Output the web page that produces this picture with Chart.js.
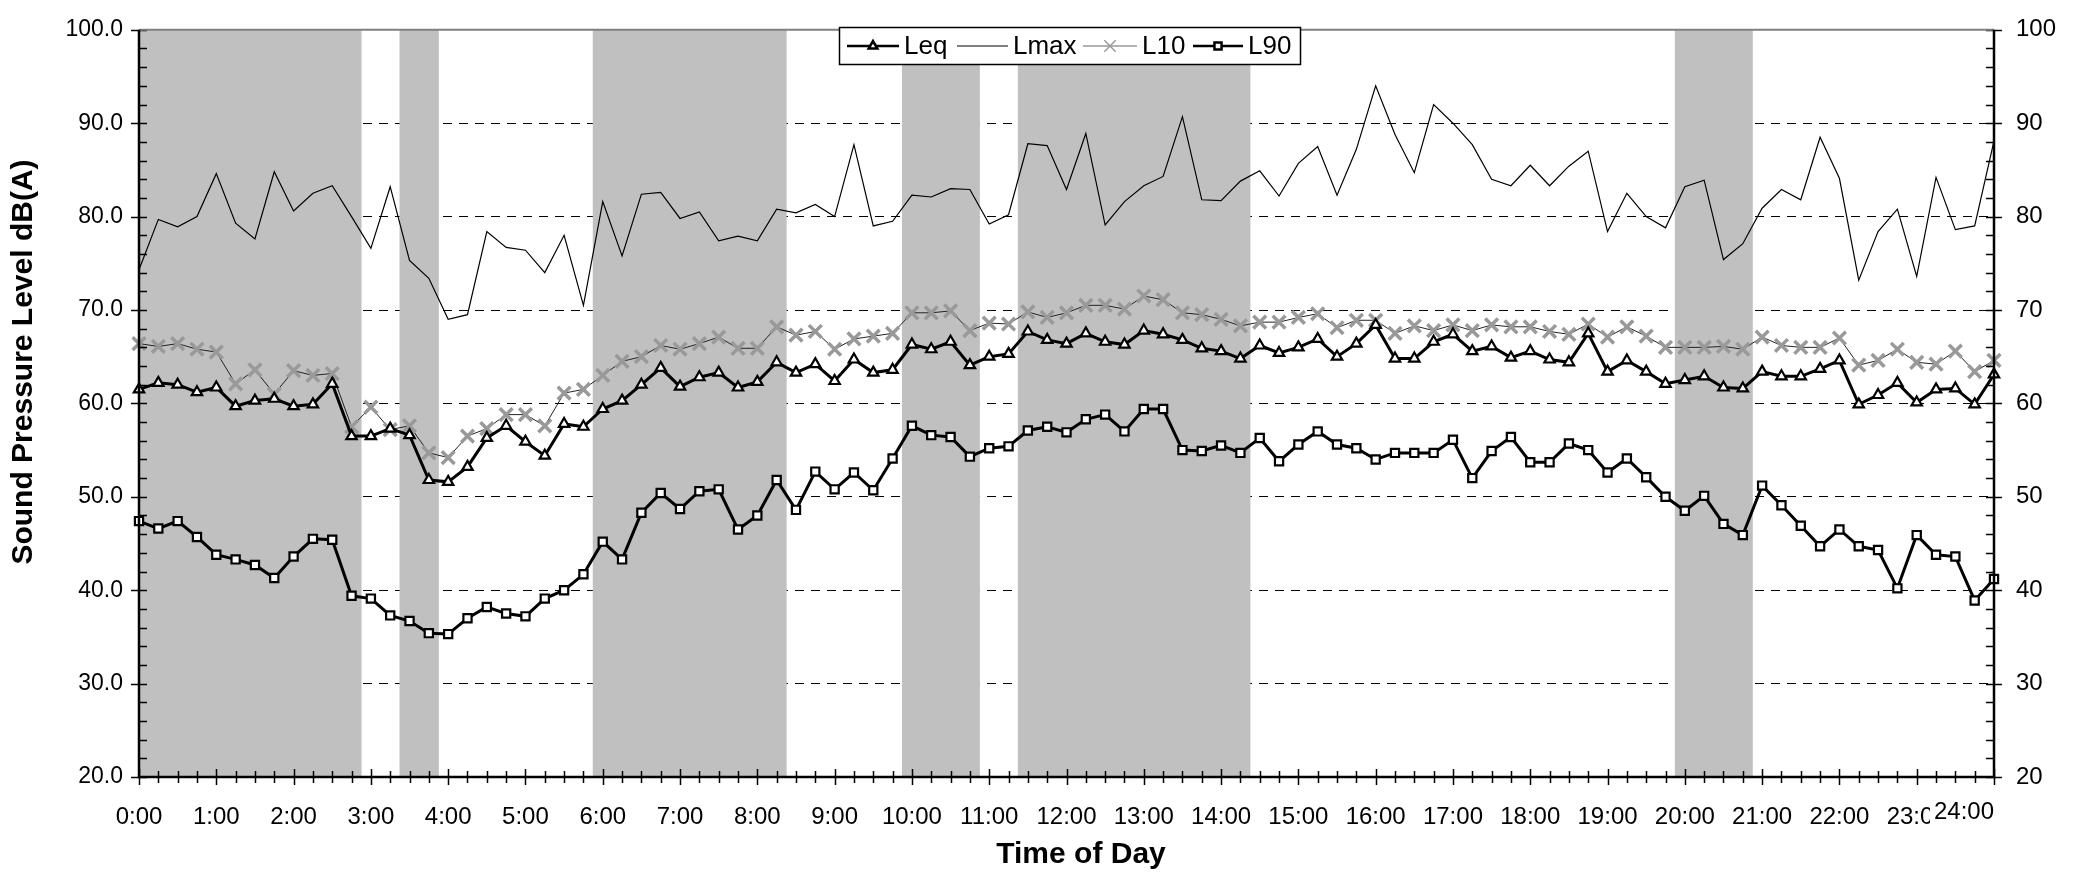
<!DOCTYPE html>
<html>
<head>
<meta charset="utf-8">
<title>Sound Pressure Level by Time of Day</title>
<script src="https://cdn.jsdelivr.net/npm/chart.js@4.4.1/dist/chart.umd.min.js"></script>
<style>
  html, body { margin: 0; padding: 0; background: #fff; }
  #wrap { width: 2078px; height: 872px; }
</style>
</head>
<body>
<div id="wrap"><canvas id="chart" width="2078" height="872"></canvas></div>
<script>
// 15-minute readings from 0:00 to 24:00 (97 points)
const timeLabels = [];
for (let h = 0; h <= 24; h++) {
  ['00', '15', '30', '45'].forEach(m => {
    if (h < 24 || m === '00') timeLabels.push(h + ':' + m);
  });
}

const leq = [
  61.5, 62.2, 62.0, 61.2, 61.7, 59.7, 60.3, 60.5, 59.7, 59.9, 62.1, 56.5, 56.5,
  57.3, 56.6, 51.8, 51.6, 53.2, 56.3, 57.6, 55.9, 54.4, 57.8, 57.5, 59.4,
  60.3, 62.0, 63.8, 61.8, 62.8, 63.3, 61.7, 62.3, 64.4, 63.3, 64.2, 62.4, 64.7,
  63.3, 63.6, 66.3, 65.8, 66.6, 64.1, 65.0, 65.3, 67.7, 66.8, 66.4, 67.5,
  66.6, 66.3, 67.8, 67.4, 66.8, 65.9, 65.6, 64.8, 66.2, 65.4, 66.0, 66.9, 65.0,
  66.4, 68.4, 64.8, 64.8, 66.6, 67.4, 65.6, 66.1, 64.9, 65.6, 64.7, 64.4,
  67.5, 63.4, 64.6, 63.4, 62.1, 62.5, 62.9, 61.7, 61.6, 63.4, 62.9, 62.9, 63.7,
  64.6, 59.9, 60.9, 62.2, 60.1, 61.5, 61.6, 59.9, 63.1
];

const lmax = [
  74.3, 79.7, 78.9, 80.0, 84.6, 79.3, 77.6, 84.8, 80.6, 82.5, 83.3, 80.0, 76.6,
  83.2, 75.3, 73.4, 69.0, 69.5, 78.4, 76.7, 76.4, 74.0, 78.0, 70.5, 81.6,
  75.8, 82.4, 82.6, 79.8, 80.5, 77.4, 77.9, 77.4, 80.8, 80.4, 81.3, 80.0, 87.7,
  79.0, 79.5, 82.3, 82.1, 83.0, 82.9, 79.2, 80.2, 87.8, 87.6, 82.9, 88.9,
  79.1, 81.6, 83.3, 84.3, 90.7, 81.8, 81.7, 83.8, 84.9, 82.2, 85.7, 87.5, 82.3,
  87.2, 94.0, 88.8, 84.7, 92.0, 90.0, 87.7, 84.0, 83.3, 85.5, 83.3, 85.4,
  87.0, 78.4, 82.5, 80.0, 78.8, 83.2, 83.9, 75.4, 77.1, 80.9, 82.9, 81.8, 88.5,
  84.1, 73.2, 78.4, 80.8, 73.6, 84.2, 78.6, 79.0, 88.1
];

const l10 = [
  66.4, 66.1, 66.4, 65.8, 65.5, 62.1, 63.6, 61.0, 63.5, 63.0, 63.2, 57.5, 59.6,
  57.2, 57.6, 54.7, 54.2, 56.5, 57.3, 58.8, 58.8, 57.6, 61.1, 61.5, 63.0,
  64.5, 65.0, 66.2, 65.8, 66.4, 67.1, 65.9, 65.9, 68.2, 67.3, 67.7, 65.8, 66.9,
  67.2, 67.5, 69.7, 69.7, 69.9, 67.8, 68.6, 68.5, 69.8, 69.2, 69.7, 70.5,
  70.5, 70.1, 71.5, 71.1, 69.7, 69.5, 69.0, 68.3, 68.7, 68.7, 69.2, 69.6, 68.1,
  68.9, 68.9, 67.5, 68.3, 67.8, 68.4, 67.8, 68.4, 68.2, 68.2, 67.7, 67.4,
  68.5, 67.1, 68.2, 67.2, 66.0, 66.0, 66.0, 66.1, 65.8, 67.1, 66.2, 66.0, 66.0,
  67.0, 64.1, 64.6, 65.8, 64.4, 64.2, 65.6, 63.4, 64.6
];

const l90 = [
  47.4, 46.6, 47.4, 45.7, 43.8, 43.3, 42.7, 41.3, 43.6, 45.5, 45.4, 39.4, 39.1,
  37.3, 36.7, 35.4, 35.3, 37.0, 38.2, 37.5, 37.2, 39.1, 40.0, 41.7, 45.2,
  43.3, 48.3, 50.4, 48.7, 50.6, 50.8, 46.5, 48.0, 51.8, 48.6, 52.7, 50.8, 52.6,
  50.7, 54.1, 57.6, 56.6, 56.4, 54.3, 55.2, 55.4, 57.1, 57.5, 56.9, 58.3,
  58.8, 57.0, 59.4, 59.4, 55.0, 54.9, 55.5, 54.7, 56.3, 53.8, 55.6, 57.0, 55.6,
  55.2, 54.0, 54.7, 54.7, 54.7, 56.1, 52.0, 54.9, 56.4, 53.7, 53.7, 55.7,
  55.0, 52.6, 54.1, 52.1, 50.0, 48.5, 50.1, 47.1, 45.9, 51.2, 49.1, 46.9, 44.7,
  46.5, 44.7, 44.3, 40.2, 45.9, 43.8, 43.6, 38.9, 41.2
];

// shaded periods (first and last reading inside each grey band)
const shadedPeriods = [
  ['0:00', '2:45'], ['3:30', '3:45'], ['6:00', '8:15'],
  ['10:00', '10:45'], ['11:30', '14:15'], ['20:00', '20:45']
];

const yMin = 20, yMax = 100;

const bandData = timeLabels.map((t, i) => {
  const inBand = shadedPeriods.some(([a, b]) => i >= timeLabels.indexOf(a) && i <= timeLabels.indexOf(b));
  return inBand ? yMax : null;
});

const regular = "'Liberation Sans', Arial, sans-serif";
const lastLabel = timeLabels[timeLabels.length - 1];

// axis lines, tick marks, titles
const frame = {
  id: 'frame',
  afterDatasetsDraw(chart) {
    const { ctx, chartArea: a, scales: { x, y } } = chart;
    ctx.save();
    ctx.setLineDash([]);
    ctx.strokeStyle = '#000';
    ctx.lineWidth = 1.5;
    ctx.beginPath();
    for (let v = yMin; v <= yMax; v += 2) {
      const py = Math.round(y.getPixelForValue(v)) + 0.5;
      const major = v % 10 === 0;
      ctx.moveTo(a.left - (major ? 8 : 0), py);
      ctx.lineTo(a.left + 8, py);
      ctx.moveTo(a.right - 8, py);
      ctx.lineTo(a.right + (major ? 8 : 0), py);
    }
    timeLabels.forEach((t, i) => {
      const px = Math.round(x.getPixelForValue(i)) + 0.5;
      const hour = t.endsWith(':00');
      ctx.moveTo(px, a.bottom - (hour ? 8 : 6));
      ctx.lineTo(px, a.bottom + (hour ? 8 : 6));
    });
    ctx.stroke();

    ctx.strokeStyle = '#808080';
    ctx.lineWidth = 2;
    ctx.beginPath();
    ctx.moveTo(a.left, a.top);
    ctx.lineTo(a.right, a.top);
    ctx.stroke();

    ctx.strokeStyle = '#000';
    ctx.lineWidth = 2.5;
    ctx.beginPath();
    ctx.moveTo(a.left, a.top);
    ctx.lineTo(a.left, a.bottom);
    ctx.lineTo(a.right, a.bottom);
    ctx.lineTo(a.right, a.top);
    ctx.stroke();

    // last time label is pushed inside the axis end, over the 23:00 label
    ctx.font = '24px ' + regular;
    ctx.textAlign = 'right';
    ctx.textBaseline = 'middle';
    const w = ctx.measureText(lastLabel).width;
    ctx.fillStyle = '#fff';
    ctx.fillRect(a.right - w - 4, a.bottom + 16, w + 4, 32);
    ctx.fillStyle = '#000';
    ctx.fillText(lastLabel, a.right, a.bottom + 35);

    ctx.textAlign = 'center';
    ctx.font = 'bold 30px ' + regular;
    ctx.fillText('Time of Day', 1081, 855);
    ctx.translate(24, 362);
    ctx.rotate(-Math.PI / 2);
    ctx.font = 'bold 30px ' + regular;
    ctx.fillText('Sound Pressure Level dB(A)', 0, 0);
    ctx.restore();
  },
  afterDraw(chart) {
    // boxed legend with line + marker samples
    const { ctx } = chart;
    const items = [
      { label: 'Leq', x1: 847, x2: 899, color: '#000', width: 2.5, style: 'triangle', r: 5, fill: '#fff', mw: 2 },
      { label: 'Lmax', x1: 957, x2: 1008, color: '#000', width: 1, style: false },
      { label: 'L10', x1: 1083, x2: 1137, color: '#999', width: 1.5, style: 'crossRot', r: 8, fill: '#999', mw: 3 },
      { label: 'L90', x1: 1193, x2: 1243, color: '#000', width: 2.5, style: 'rect', r: 5, fill: '#fff', mw: 2 }
    ];
    const cy = 46;
    ctx.save();
    ctx.fillStyle = '#fff';
    ctx.fillRect(839, 27, 461, 37);
    ctx.strokeStyle = '#000';
    ctx.lineWidth = 1.5;
    ctx.strokeRect(839.5, 27.5, 461, 37);
    ctx.font = '26px ' + regular;
    ctx.textBaseline = 'middle';
    ctx.textAlign = 'left';
    items.forEach(it => {
      ctx.strokeStyle = it.color;
      ctx.lineWidth = it.width;
      ctx.beginPath();
      ctx.moveTo(it.x1, cy);
      ctx.lineTo(it.x2, cy);
      ctx.stroke();
      if (it.style) {
        ctx.fillStyle = it.fill;
        ctx.strokeStyle = it.color;
        Chart.helpers.drawPoint(ctx, { pointStyle: it.style, radius: it.r, rotation: 0, borderWidth: it.mw }, (it.x1 + it.x2) / 2, cy);
      }
      ctx.fillStyle = '#000';
      ctx.fillText(it.label, it.x2 + 5, cy + 1);
    });
    ctx.restore();
  }
};

new Chart(document.getElementById('chart'), {
  type: 'line',
  data: {
    labels: timeLabels,
    datasets: [
      {
        label: 'Leq', data: leq, borderColor: '#000', borderWidth: 3,
        pointStyle: 'triangle', pointRadius: 6, pointBackgroundColor: '#fff',
        pointBorderColor: '#000', pointBorderWidth: 2.2, order: 0
      },
      {
        label: 'Lmax', data: lmax, borderColor: '#000', borderWidth: 1.2,
        pointRadius: 0, order: 0
      },
      {
        label: 'L10', data: l10, borderColor: '#222', borderWidth: 1,
        pointStyle: 'crossRot', pointRadius: 9, pointBorderColor: '#999',
        pointBorderWidth: 3.5, order: 0
      },
      {
        label: 'L90', data: l90, borderColor: '#000', borderWidth: 3,
        pointStyle: 'rect', pointRadius: 5.8, pointBackgroundColor: '#fff',
        pointBorderColor: '#000', pointBorderWidth: 2.2, order: 0
      },
      {
        type: 'bar', label: 'Shaded', data: bandData, backgroundColor: '#C0C0C0',
        borderWidth: 0, barPercentage: 1, categoryPercentage: 1, order: 1, clip: 0
      }
    ]
  },
  options: {
    responsive: false,
    animation: false,
    events: [],
    devicePixelRatio: 1,
    elements: { line: { tension: 0 } },
    layout: { padding: { top: 15, left: 0, right: 0, bottom: 0 } },
    plugins: { legend: { display: false }, tooltip: { enabled: false } },
    scales: {
      x: {
        type: 'category',
        offset: false,
        grid: { display: false },
        border: { display: false },
        ticks: {
          autoSkip: false, maxRotation: 0, minRotation: 0, padding: 18, color: '#000',
          font: { family: regular, size: 24 },
          callback: (v, i) => (timeLabels[i].endsWith(':00') && i < timeLabels.length - 1) ? timeLabels[i] : null
        },
        afterFit: s => { s.height = 95; }
      },
      y: {
        position: 'left', min: yMin, max: yMax,
        grid: {
          drawTicks: false, lineWidth: 1,
          color: c => (c.tick.value > yMin && c.tick.value < yMax) ? '#000' : 'rgba(0,0,0,0)'
        },
        border: { display: false, dash: [9, 7] },
        ticks: {
          stepSize: 10, padding: 16, color: '#000',
          font: { family: regular, size: 23 },
          callback: v => v.toFixed(1)
        },
        afterFit: s => { s.width = 139; }
      },
      y2: {
        position: 'right', min: yMin, max: yMax,
        grid: { display: false },
        border: { display: false },
        ticks: {
          stepSize: 10, padding: 14, color: '#000',
          font: { family: regular, size: 24 },
          callback: v => String(v)
        },
        afterFit: s => { s.width = 84; }
      }
    }
  },
  plugins: [frame]
});
</script>
</body>
</html>
